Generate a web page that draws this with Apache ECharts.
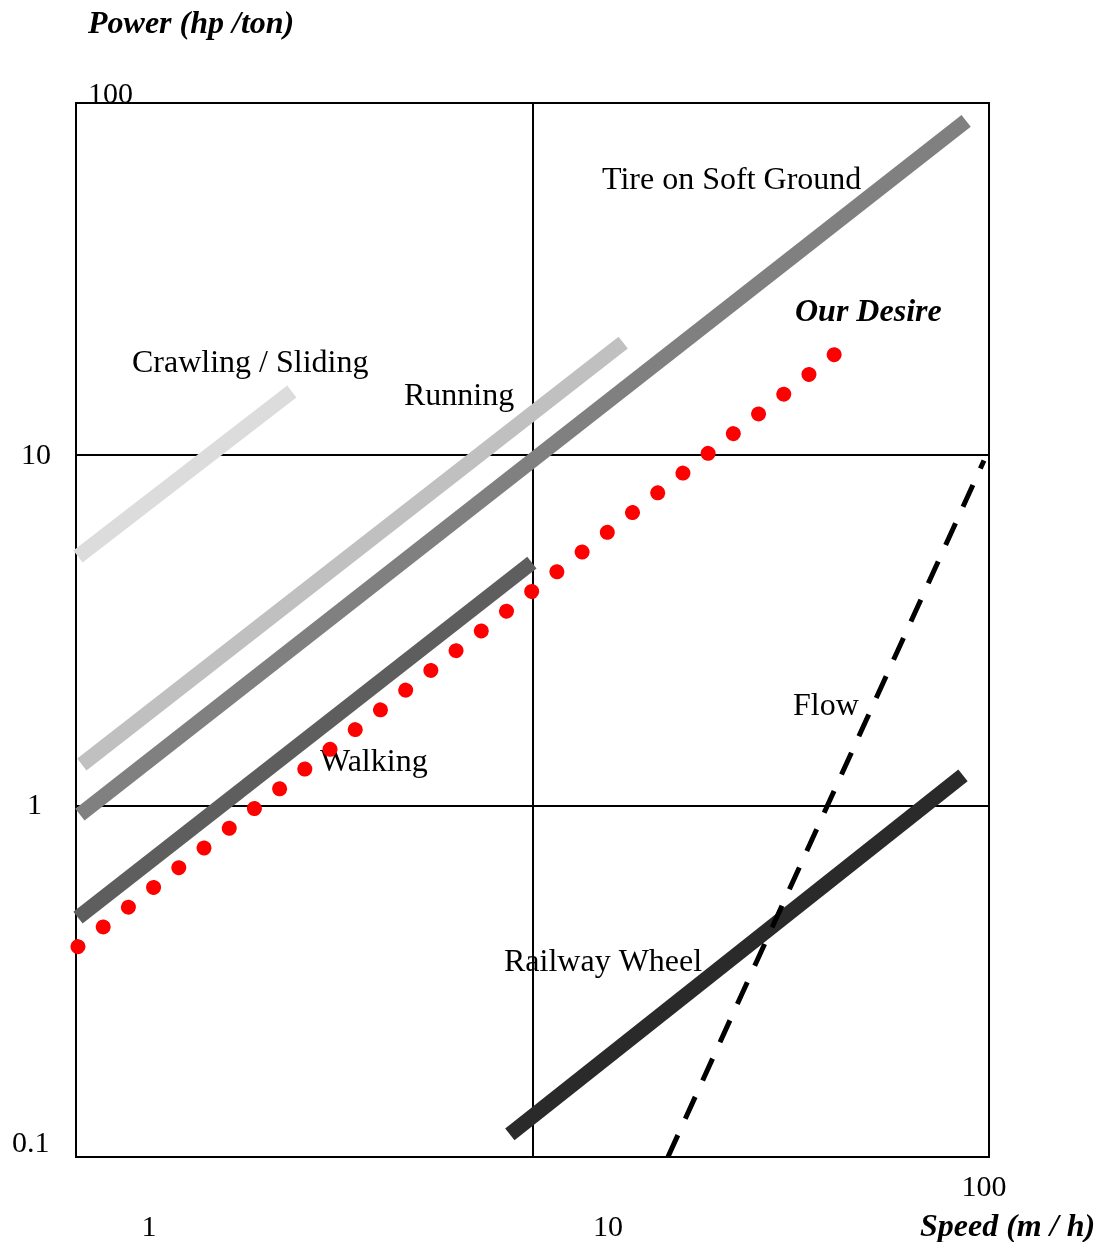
<!DOCTYPE html>
<html>
<head>
<meta charset="utf-8">
<script src="https://cdn.jsdelivr.net/npm/echarts@6/dist/echarts.min.js"></script>
<style>
  html, body { margin: 0; padding: 0; background: #fff; }
  #chart { width: 1105px; height: 1242px; }
</style>
</head>
<body>
<div id="chart"></div>
<script>
// Speed (m/h) vs specific power (hp/ton), both on log scales
const crawling = [[1.01, 5.12], [2.97, 15.1]];
const running = [[1.03, 1.31], [15.8, 20.8]];
const tire = [[1.02, 0.943], [89.1, 88.9]];
const walking = [[1.01, 0.48], [9.97, 4.92]];
const flow = [[19.8, 0.1], [97.5, 9.6]];
const railway = [[8.92, 0.116], [87.7, 1.22]];
const ourDesire = [[1.01, 0.397], [46.0, 19.3]];

const xTickLabels = ['1', '10', '100'];
const yTickLabels = ['100', '10', '1', '0.1'];

const SERIF = '"Liberation Serif", "Times New Roman", serif';
const chart = echarts.init(document.getElementById('chart'), null, { renderer: 'canvas' });

function band(name, data, color) {
  return {
    name, type: 'line', data, showSymbol: false, silent: true,
    lineStyle: { color, width: 15, cap: 'butt' }
  };
}

function txt(text, x, y, opts) {
  return {
    type: 'text', x, y: y + 3, silent: true,
    style: Object.assign({
      text, fill: '#000', font: '32px ' + SERIF,
      textVerticalAlign: 'middle', textAlign: 'left'
    }, opts || {})
  };
}

const tickFont = '30px ' + SERIF;
const titleFont = 'italic bold 32px ' + SERIF;

chart.setOption({
  animation: false,
  backgroundColor: '#fff',
  grid: {
    left: 76, top: 103, right: 116, bottom: 85,
    show: true, borderColor: '#000', borderWidth: 2, backgroundColor: 'transparent'
  },
  xAxis: {
    type: 'log', logBase: 10, min: 1, max: 100,
    axisLine: { show: false }, axisTick: { show: false }, axisLabel: { show: false },
    splitLine: { show: true, lineStyle: { color: '#000', width: 2 } }
  },
  yAxis: {
    type: 'log', logBase: 10, min: 0.1, max: 100,
    axisLine: { show: false }, axisTick: { show: false }, axisLabel: { show: false },
    splitLine: { show: true, lineStyle: { color: '#000', width: 2 } }
  },
  series: [
    band('Crawling / Sliding', crawling, '#dcdcdc'),
    band('Running', running, '#c0c0c0'),
    band('Tire on Soft Ground', tire, '#808080'),
    band('Walking', walking, '#5e5e5e'),
    band('Railway Wheel', railway, '#2a2a2a'),
    {
      name: 'Flow', type: 'line', data: flow, showSymbol: false, silent: true,
      lineStyle: { color: '#000', width: 5, type: [24, 18], cap: 'butt' }
    },
    {
      name: 'Our Desire', type: 'line', data: ourDesire, showSymbol: false, silent: true,
      lineStyle: { color: '#ff0000', width: 15, type: [0.01, 32], cap: 'round' }
    }
  ],
  graphic: [
    // axis titles
    txt('Power (hp /ton)', 88, 22, { font: titleFont }),
    txt('Speed (m / h)', 920, 1225, { font: titleFont }),
    // y tick labels
    txt(yTickLabels[0], 88, 92, { font: tickFont }),
    txt(yTickLabels[1], 21, 453, { font: tickFont }),
    txt(yTickLabels[2], 27, 803, { font: tickFont }),
    txt(yTickLabels[3], 12, 1141, { font: tickFont }),
    // x tick labels
    txt(xTickLabels[0], 149, 1225, { font: tickFont, textAlign: 'center' }),
    txt(xTickLabels[1], 608, 1225, { font: tickFont, textAlign: 'center' }),
    txt(xTickLabels[2], 984, 1185, { font: tickFont, textAlign: 'center' }),
    // curve annotations
    txt('Crawling / Sliding', 132, 361),
    txt('Running', 404, 394),
    txt('Tire on Soft Ground', 602, 178),
    txt('Our Desire', 795, 310, { font: titleFont }),
    txt('Walking', 320, 760),
    txt('Flow', 793, 704),
    txt('Railway Wheel', 504, 960)
  ]
});
</script>
</body>
</html>
